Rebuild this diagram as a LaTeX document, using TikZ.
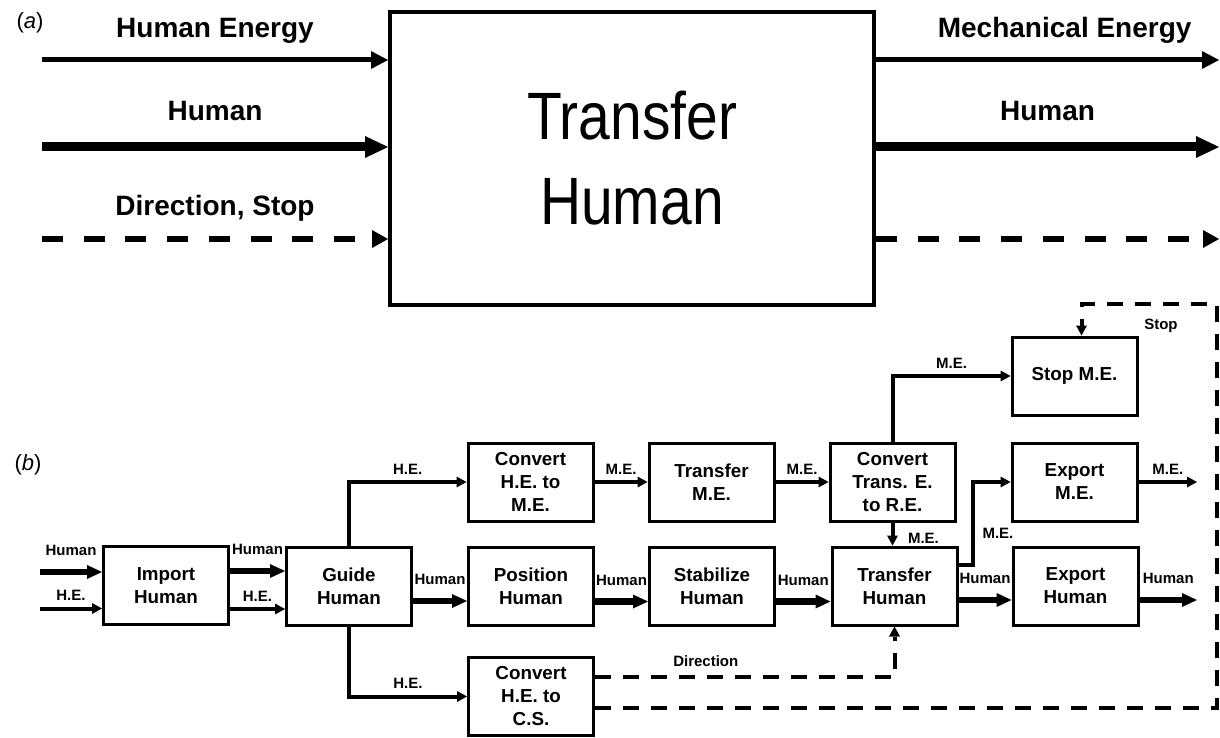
\documentclass[tikz,border=0pt]{standalone}
\usepackage{fontspec}
\setmainfont{Liberation Sans}
\newfontfamily\bigsans[FakeStretch=0.85]{Liberation Sans}
\usetikzlibrary{arrows.meta}
\tikzset{
  func/.style={draw,line width=3pt,minimum width=125pt,minimum height=78pt,align=center,inner sep=0pt,font=\bfseries\fontsize{18.8}{23}\selectfont},
  lbl/.style={inner sep=0pt,text depth=0pt,font=\bfseries\fontsize{15}{17}\selectfont},
  biglbl/.style={inner sep=0pt,text depth=0pt,font=\bfseries\fontsize{28}{32}\selectfont},
  enflow/.style={line width=5pt,-{Triangle[length=17pt,width=18pt,line width=0pt]}},
  humflow/.style={line width=9pt,-{Triangle[length=23pt,width=22pt,line width=0pt]}},
  sigflow/.style={line width=6pt,dash pattern=on 21pt off 20.7pt,-{Triangle[length=16pt,width=18pt,line width=0pt]}},
  enarrow/.style={line width=4pt,-{Triangle[length=10pt,width=11pt,line width=0pt]}},
  humarrow/.style={line width=6.5pt,-{Triangle[length=15pt,width=14pt,line width=0pt]}},
  sigarrow/.style={line width=4pt,dash pattern=on 16pt off 12pt,-{Triangle[length=10pt,width=11pt,line width=0pt]}}
}
\begin{document}
\begin{tikzpicture}[x=1pt,y=-1pt]
\useasboundingbox (0,0) rectangle (1220,738);
\node[font=\fontsize{22}{26}\selectfont] (pa) at (30,23) {(\textit{a})};
\node[draw,line width=4pt,minimum width=484pt,minimum height=293pt,align=center,font=\bigsans\fontsize{67}{85}\selectfont] (tra) at (632,158.5) {Transfer\\Human};
\coordinate (he) at (42,60);
\coordinate (hu) at (42,147);
\coordinate (ds) at (42,239);
\coordinate (me) at (1219,60);
\coordinate (ho) at (1219,147);
\coordinate (dso) at (1219,239);
\draw[enflow] (he) -- node[biglbl,above=20pt]{Human Energy} (he -| tra.west);
\draw[humflow] (hu) -- node[biglbl,above=22pt]{Human} (hu -| tra.west);
\draw[sigflow] (ds) -- node[biglbl,above=21pt]{Direction, Stop} (ds -| tra.west);
\draw[enflow] (me -| tra.east) -- node[biglbl,above=20pt,pos=.55]{Mechanical Energy} (me);
\draw[humflow] (ho -| tra.east) -- node[biglbl,above=22pt]{Human} (ho);
\draw[sigflow] (dso -| tra.east) -- (dso);

\node[font=\fontsize{22}{26}\selectfont] (pb) at (28,465) {(\textit{b})};
\node[func] (imp) at (166,585.5) {Import\\Human};
\node[func] (gui) at (349,586) {Guide\\Human};
\node[func] (cme) at (530.5,482) {Convert\\H.E. to\\M.E.};
\node[func] (tme) at (711.5,482) {Transfer\\M.E.};
\node[func] (cte) at (892.5,482) {Convert\\Trans. E.\\to R.E.};
\node[func] (stp) at (1074.5,376) {Stop M.E.};
\node[func] (eme) at (1074.5,482) {Export\\M.E.};
\node[func] (psn) at (531,586.5) {Position\\Human};
\node[func] (stb) at (712,586.5) {Stabilize\\Human};
\node[func] (thu) at (894.5,586) {Transfer\\Human};
\node[func] (ehu) at (1075.5,586) {Export\\Human};
\node[func] (ccs) at (531,696.5) {Convert\\H.E. to\\C.S.};
\coordinate (inh) at (40,572);
\coordinate (ine) at (40,608.5);
\coordinate (ome) at (1197,482);
\coordinate (ohu) at (1197,600);
\coordinate (rt) at (1217,304);
\draw[humarrow] (inh) -- node[lbl,above=13pt]{Human} (inh -| imp.west);
\draw[enarrow] (ine) -- node[lbl,above=6pt]{H.E.} (ine -| imp.west);
\draw[humarrow] ([yshift=14.5pt]imp.east) -- node[lbl,above=13pt]{Human} ([yshift=14.5pt]imp.east -| gui.west);
\draw[enarrow] ([yshift=-23.5pt]imp.east) -- node[lbl,above=6pt]{H.E.} ([yshift=-23.5pt]imp.east -| gui.west);
\draw[enarrow] (gui.north) |- node[lbl,above=6pt,pos=.75]{H.E.} (cme.west);
\draw[humarrow] ([yshift=-15pt]gui.east) -- node[lbl,above=13pt]{Human} ([yshift=-15pt]gui.east -| psn.west);
\draw[enarrow] (gui.south) |- node[lbl,above=6pt,pos=.75]{H.E.} (ccs.west);
\draw[enarrow] (cme) -- node[lbl,above=6pt]{M.E.} (tme);
\draw[enarrow] (tme) -- node[lbl,above=6pt]{M.E.} (cte);
\draw[humarrow] ([yshift=-15pt]psn.east) -- node[lbl,above=13pt]{Human} ([yshift=-15pt]psn.east -| stb.west);
\draw[humarrow] ([yshift=-15pt]stb.east) -- node[lbl,above=13pt]{Human} ([yshift=-15pt]stb.east -| thu.west);
\draw[enarrow] (cte.north) |- node[lbl,above=6pt,pos=.75]{M.E.} (stp.west);
\draw[enarrow] (cte.south) -- node[lbl,anchor=base west,pos=1,xshift=13.5pt,yshift=2.5pt]{M.E.} (cte.south |- thu.north);
\draw[enarrow] ([yshift=21pt]thu.east) -- ++(14,0) |- node[lbl,right=8pt,pos=.19]{M.E.} (eme.west);
\draw[humarrow] ([yshift=-14pt]thu.east) -- node[lbl,above=13pt]{Human} ([yshift=-14pt]thu.east -| ehu.west);
\draw[enarrow] (eme.east) -- node[lbl,above=6pt]{M.E.} (ome);
\draw[humarrow] (ohu -| ehu.east) -- node[lbl,above=13pt]{Human} (ohu);
\draw[sigarrow] ([yshift=19.5pt]ccs.east) -| node[lbl,above=9pt,pos=.185]{Direction} (thu.south);
\draw[sigarrow] ([yshift=-11.5pt]ccs.east) -| (rt) -| node[lbl,below=13pt,pos=.207]{Stop} ([xshift=7pt]stp.north);
\end{tikzpicture}
\end{document}
